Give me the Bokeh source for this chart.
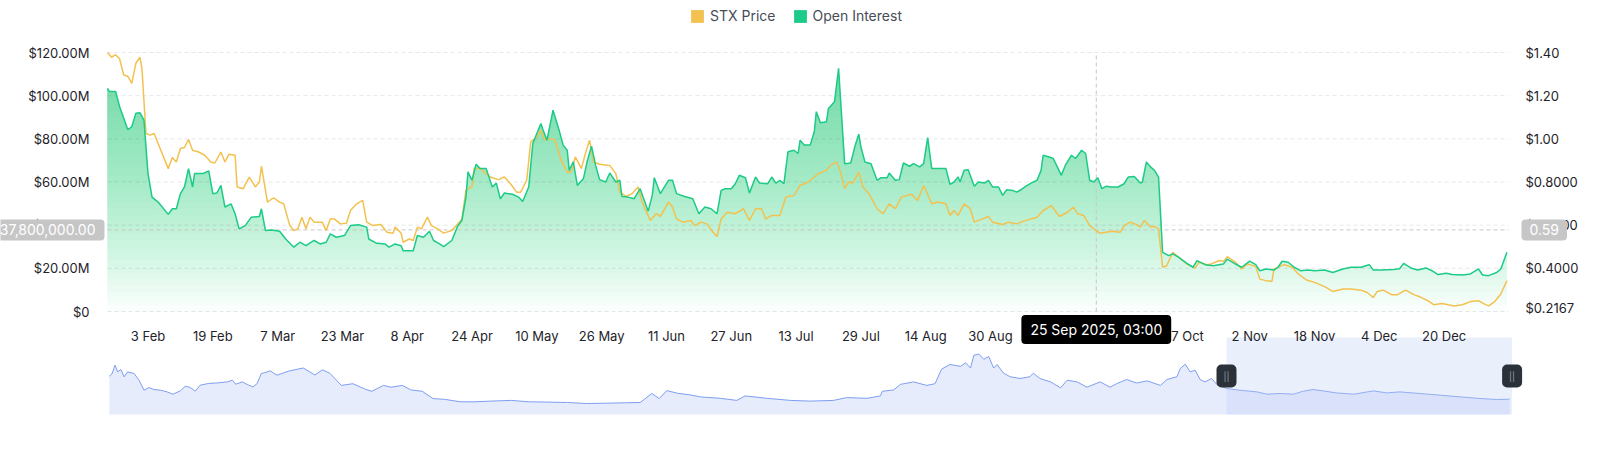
import numpy as np
import pandas as pd
from bokeh.plotting import figure
from bokeh.models import Range1d, LinearAxis, FixedTicker, Label, Legend, LegendItem
from bokeh.embed import file_html
from bokeh.resources import INLINE

# ---------------- data ----------------
oi_dates = [
    "2025-01-24", "2025-01-24 12:00", "2025-01-26", "2025-01-27", "2025-01-29", "2025-01-30", "2025-01-31", "2025-02-01", "2025-02-02", "2025-02-03",
    "2025-02-04", "2025-02-05 12:00", "2025-02-08", "2025-02-09", "2025-02-10", "2025-02-11", "2025-02-12", "2025-02-13", "2025-02-14", "2025-02-14 12:00",
    "2025-02-16 12:00", "2025-02-18", "2025-02-19", "2025-02-20", "2025-02-21", "2025-02-22", "2025-02-23 12:00", "2025-02-24 12:00", "2025-02-25 12:00", "2025-02-27",
    "2025-02-28 12:00", "2025-03-02 12:00", "2025-03-03", "2025-03-04", "2025-03-05 12:00", "2025-03-07 12:00", "2025-03-09", "2025-03-11", "2025-03-12 12:00", "2025-03-14",
    "2025-03-16", "2025-03-17 12:00", "2025-03-19", "2025-03-20", "2025-03-21 12:00", "2025-03-23 12:00", "2025-03-25", "2025-03-27", "2025-03-29", "2025-03-29 12:00",
    "2025-03-31 12:00", "2025-04-02 12:00", "2025-04-03 12:00", "2025-04-05", "2025-04-06 12:00", "2025-04-07", "2025-04-09 12:00", "2025-04-10 12:00", "2025-04-12", "2025-04-13 12:00",
    "2025-04-14 12:00", "2025-04-16", "2025-04-17", "2025-04-19", "2025-04-20 12:00", "2025-04-21 12:00", "2025-04-22 12:00", "2025-04-23", "2025-04-24", "2025-04-25",
    "2025-04-26", "2025-04-27 12:00", "2025-04-29", "2025-04-30", "2025-05-01", "2025-05-02", "2025-05-04", "2025-05-05 12:00", "2025-05-06 12:00", "2025-05-08",
    "2025-05-09", "2025-05-11", "2025-05-11 12:00", "2025-05-12 12:00", "2025-05-14", "2025-05-15 12:00", "2025-05-16 12:00", "2025-05-17 12:00", "2025-05-18", "2025-05-19",
    "2025-05-20", "2025-05-21 12:00", "2025-05-22 12:00", "2025-05-23 12:00", "2025-05-24 12:00", "2025-05-25 12:00", "2025-05-27", "2025-05-28", "2025-05-29 12:00", "2025-05-30 12:00",
    "2025-05-31", "2025-06-01 12:00", "2025-06-03", "2025-06-04 12:00", "2025-06-06 12:00", "2025-06-07 12:00", "2025-06-08", "2025-06-09 12:00", "2025-06-10 12:00", "2025-06-11 12:00",
    "2025-06-12 12:00", "2025-06-13 12:00", "2025-06-15 12:00", "2025-06-17 12:00", "2025-06-19", "2025-06-20 12:00", "2025-06-22", "2025-06-23 12:00", "2025-06-24 12:00", "2025-06-25 12:00",
    "2025-06-27", "2025-06-28", "2025-06-29", "2025-06-30 12:00", "2025-07-01 12:00", "2025-07-03", "2025-07-04", "2025-07-06", "2025-07-07", "2025-07-08",
    "2025-07-09", "2025-07-10", "2025-07-11", "2025-07-12 12:00", "2025-07-13 12:00", "2025-07-14", "2025-07-15", "2025-07-16 12:00", "2025-07-17 12:00", "2025-07-18",
    "2025-07-19", "2025-07-20 12:00", "2025-07-21", "2025-07-22 12:00", "2025-07-23 12:00", "2025-07-24", "2025-07-25", "2025-07-26 12:00", "2025-07-27 12:00", "2025-07-28 12:00",
    "2025-07-29", "2025-07-30", "2025-07-31 12:00", "2025-08-02", "2025-08-03", "2025-08-04 12:00", "2025-08-05", "2025-08-06 12:00", "2025-08-07 12:00", "2025-08-08 12:00",
    "2025-08-10", "2025-08-11", "2025-08-12 12:00", "2025-08-13 12:00", "2025-08-14 12:00", "2025-08-15 12:00", "2025-08-17", "2025-08-19", "2025-08-20", "2025-08-21",
    "2025-08-22", "2025-08-22 12:00", "2025-08-23 12:00", "2025-08-24 12:00", "2025-08-26", "2025-08-27", "2025-08-28 12:00", "2025-08-29 12:00", "2025-08-30 12:00", "2025-09-01",
    "2025-09-02", "2025-09-03", "2025-09-04 12:00", "2025-09-05 12:00", "2025-09-06 12:00", "2025-09-07 12:00", "2025-09-09", "2025-09-10 12:00", "2025-09-11 12:00", "2025-09-12",
    "2025-09-13 12:00", "2025-09-14 12:00", "2025-09-15 12:00", "2025-09-16 12:00", "2025-09-17 12:00", "2025-09-19", "2025-09-20", "2025-09-21 12:00", "2025-09-22 12:00", "2025-09-23 12:00",
    "2025-09-24 12:00", "2025-09-25 12:00", "2025-09-26 12:00", "2025-09-27 12:00", "2025-09-29", "2025-09-30 12:00", "2025-10-02", "2025-10-03", "2025-10-04 12:00", "2025-10-06",
    "2025-10-06 12:00", "2025-10-07 12:00", "2025-10-08 12:00", "2025-10-09 12:00", "2025-10-10 12:00", "2025-10-11 12:00", "2025-10-13", "2025-10-14", "2025-10-15 12:00", "2025-10-17 12:00",
    "2025-10-19", "2025-10-20", "2025-10-22", "2025-10-24", "2025-10-26 12:00", "2025-10-27 12:00", "2025-10-29 12:00", "2025-10-31", "2025-11-02", "2025-11-03 12:00",
    "2025-11-04 12:00", "2025-11-06", "2025-11-08", "2025-11-09", "2025-11-10", "2025-11-11 12:00", "2025-11-13", "2025-11-14 12:00", "2025-11-16 12:00", "2025-11-18",
    "2025-11-20 12:00", "2025-11-22 12:00", "2025-11-25", "2025-11-27", "2025-11-29 12:00", "2025-12-01 12:00", "2025-12-02 12:00", "2025-12-04 12:00", "2025-12-07 12:00", "2025-12-09",
    "2025-12-10", "2025-12-12", "2025-12-13 12:00", "2025-12-15 12:00", "2025-12-17", "2025-12-18 12:00", "2025-12-20 12:00", "2025-12-22", "2025-12-24 12:00", "2025-12-26 12:00",
    "2025-12-28 12:00", "2025-12-29 12:00", "2025-12-31", "2026-01-02", "2026-01-03", "2026-01-04 12:00",
]
oi_musd = [
    103.4, 101.9, 101.9, 94.9, 84.3, 85.6, 91.8, 92.1, 88.7, 63.9,
    53.0, 50.7, 45.0, 47.6, 47.6, 54.6, 57.7, 66.2, 57.7, 63.9,
    63.9, 65.1, 54.6, 54.9, 58.4, 48.4, 49.9, 45.3, 38.3, 39.8,
    43.7, 44.0, 47.6, 37.5, 37.8, 37.2, 33.6, 29.8, 32.1, 30.5,
    32.9, 31.3, 32.1, 36.0, 34.4, 35.2, 39.8, 40.2, 39.1, 33.6,
    31.6, 31.3, 29.8, 31.3, 30.5, 28.2, 28.2, 35.2, 34.4, 37.2,
    32.9, 31.3, 30.1, 32.9, 39.8, 42.2, 53.0, 64.7, 60.8, 68.2,
    66.2, 66.2, 57.7, 59.5, 52.2, 54.9, 54.3, 53.0, 51.0, 57.7,
    77.8, 87.1, 84.3, 79.4, 93.3, 84.0, 77.1, 74.7, 65.4, 69.3,
    58.4, 61.6, 70.1, 76.6, 67.8, 61.1, 60.0, 64.2, 60.0, 60.8,
    53.3, 53.0, 52.2, 56.9, 46.5, 53.8, 62.0, 54.6, 57.7, 60.8,
    60.8, 54.6, 53.3, 52.2, 45.3, 48.4, 47.6, 45.3, 56.1, 56.9,
    56.9, 59.2, 63.1, 62.0, 54.9, 62.3, 59.5, 59.2, 62.3, 59.5,
    60.8, 59.2, 74.0, 74.7, 73.2, 79.4, 77.1, 77.1, 83.3, 92.6,
    87.4, 87.9, 94.1, 97.2, 112.7, 98.0, 68.5, 68.8, 76.3, 82.2,
    76.3, 69.3, 68.5, 60.8, 62.0, 62.0, 64.2, 60.8, 61.1, 68.8,
    67.3, 68.5, 67.0, 68.5, 80.6, 66.2, 66.2, 66.2, 58.9, 60.0,
    62.3, 60.0, 65.4, 65.7, 58.0, 60.0, 59.5, 60.8, 57.7, 57.7,
    53.8, 56.4, 56.1, 55.3, 56.4, 57.7, 59.5, 60.8, 65.4, 72.4,
    71.6, 70.9, 67.0, 63.1, 67.8, 72.4, 70.9, 74.7, 73.2, 60.8,
    60.0, 62.0, 56.9, 58.0, 57.7, 57.7, 59.2, 62.3, 62.6, 59.5,
    60.0, 69.3, 67.0, 65.4, 62.3, 27.4, 25.9, 26.7, 25.1, 22.3,
    20.5, 23.6, 21.7, 21.2, 22.0, 24.3, 22.0, 20.5, 23.3, 21.7,
    18.9, 19.7, 19.2, 20.5, 23.3, 22.8, 20.5, 18.9, 19.2, 18.9,
    19.2, 18.1, 19.7, 20.5, 20.5, 21.7, 19.2, 19.2, 19.5, 19.8,
    22.3, 20.0, 19.2, 20.2, 18.9, 17.1, 17.7, 17.1, 16.9, 17.4,
    19.7, 16.9, 16.6, 18.1, 19.7, 27.4,
]

price_dates = [
    "2025-01-24", "2025-01-25", "2025-01-26", "2025-01-27", "2025-01-28", "2025-01-29", "2025-01-30", "2025-01-31", "2025-02-01", "2025-02-01 12:00",
    "2025-02-02 12:00", "2025-02-03 12:00", "2025-02-04 12:00", "2025-02-05 12:00", "2025-02-07 12:00", "2025-02-08", "2025-02-09", "2025-02-10", "2025-02-11", "2025-02-12",
    "2025-02-13", "2025-02-14", "2025-02-15 12:00", "2025-02-17", "2025-02-18 12:00", "2025-02-19 12:00", "2025-02-21", "2025-02-22", "2025-02-23", "2025-02-24 12:00",
    "2025-02-25", "2025-02-26 12:00", "2025-02-28", "2025-03-01 12:00", "2025-03-02 12:00", "2025-03-03", "2025-03-04 12:00", "2025-03-06", "2025-03-07 12:00", "2025-03-08 12:00",
    "2025-03-10", "2025-03-11", "2025-03-12", "2025-03-13", "2025-03-14", "2025-03-15", "2025-03-16", "2025-03-18", "2025-03-19", "2025-03-20",
    "2025-03-21", "2025-03-22 12:00", "2025-03-24", "2025-03-25", "2025-03-26 12:00", "2025-03-28", "2025-03-29", "2025-03-30 12:00", "2025-04-01 12:00", "2025-04-03",
    "2025-04-04 12:00", "2025-04-05", "2025-04-06 12:00", "2025-04-07", "2025-04-08 12:00", "2025-04-09 12:00", "2025-04-10 12:00", "2025-04-11 12:00", "2025-04-13", "2025-04-14",
    "2025-04-15 12:00", "2025-04-17", "2025-04-19", "2025-04-20 12:00", "2025-04-21 12:00", "2025-04-22 12:00", "2025-04-24", "2025-04-24 12:00", "2025-04-26", "2025-04-27 12:00",
    "2025-04-28 12:00", "2025-04-30 12:00", "2025-05-02", "2025-05-03 12:00", "2025-05-05", "2025-05-06", "2025-05-07 12:00", "2025-05-08 12:00", "2025-05-10", "2025-05-11",
    "2025-05-12", "2025-05-13 12:00", "2025-05-14 12:00", "2025-05-16", "2025-05-17 12:00", "2025-05-18 12:00", "2025-05-19 12:00", "2025-05-21", "2025-05-22", "2025-05-23",
    "2025-05-24", "2025-05-25 12:00", "2025-05-28", "2025-05-29 12:00", "2025-05-30 12:00", "2025-06-01", "2025-06-02 12:00", "2025-06-04", "2025-06-05", "2025-06-07",
    "2025-06-08 12:00", "2025-06-09 12:00", "2025-06-11 12:00", "2025-06-12 12:00", "2025-06-13 12:00", "2025-06-15", "2025-06-17", "2025-06-18", "2025-06-19 12:00", "2025-06-21",
    "2025-06-22 12:00", "2025-06-23 12:00", "2025-06-24 12:00", "2025-06-26", "2025-06-28", "2025-06-30", "2025-07-01 12:00", "2025-07-03", "2025-07-04 12:00", "2025-07-05 12:00",
    "2025-07-07", "2025-07-09", "2025-07-10 12:00", "2025-07-12 12:00", "2025-07-14", "2025-07-16", "2025-07-17 12:00", "2025-07-18 12:00", "2025-07-20 12:00", "2025-07-21 12:00",
    "2025-07-23", "2025-07-24", "2025-07-25", "2025-07-26", "2025-07-27", "2025-07-28 12:00", "2025-07-29 12:00", "2025-07-31", "2025-08-02", "2025-08-03 12:00",
    "2025-08-05", "2025-08-06 12:00", "2025-08-08", "2025-08-10 12:00", "2025-08-12", "2025-08-13 12:00", "2025-08-15 12:00", "2025-08-17", "2025-08-19", "2025-08-20",
    "2025-08-21", "2025-08-22", "2025-08-23 12:00", "2025-08-25", "2025-08-26", "2025-08-28", "2025-08-29 12:00", "2025-08-30 12:00", "2025-09-02", "2025-09-03 12:00",
    "2025-09-05 12:00", "2025-09-06 12:00", "2025-09-09", "2025-09-10 12:00", "2025-09-12", "2025-09-14", "2025-09-16", "2025-09-18", "2025-09-19 12:00", "2025-09-20 12:00",
    "2025-09-22", "2025-09-23 12:00", "2025-09-24 12:00", "2025-09-26", "2025-09-27 12:00", "2025-09-29", "2025-10-01", "2025-10-02", "2025-10-03 12:00", "2025-10-05",
    "2025-10-06", "2025-10-07", "2025-10-08 12:00", "2025-10-09 12:00", "2025-10-10 12:00", "2025-10-11 12:00", "2025-10-12 12:00", "2025-10-14", "2025-10-15 12:00", "2025-10-17 12:00",
    "2025-10-19 12:00", "2025-10-20 12:00", "2025-10-22 12:00", "2025-10-23 12:00", "2025-10-25 12:00", "2025-10-26 12:00", "2025-10-27 12:00", "2025-10-29 12:00", "2025-10-31", "2025-11-01 12:00",
    "2025-11-03 12:00", "2025-11-04 12:00", "2025-11-06", "2025-11-07 12:00", "2025-11-08", "2025-11-09", "2025-11-10 12:00", "2025-11-12 12:00", "2025-11-14", "2025-11-16",
    "2025-11-18", "2025-11-20 12:00", "2025-11-22 12:00", "2025-11-25", "2025-11-27", "2025-11-29 12:00", "2025-12-01", "2025-12-02 12:00", "2025-12-03 12:00", "2025-12-05",
    "2025-12-07", "2025-12-08 12:00", "2025-12-10 12:00", "2025-12-12 12:00", "2025-12-14", "2025-12-16", "2025-12-17 12:00", "2025-12-19 12:00", "2025-12-21", "2025-12-22 12:00",
    "2025-12-24 12:00", "2025-12-26 12:00", "2025-12-28 12:00", "2025-12-30", "2025-12-31", "2026-01-01 12:00", "2026-01-03", "2026-01-04 12:00",
]
price_usd = [
    1.40, 1.378, 1.39, 1.37, 1.296, 1.29, 1.257, 1.35, 1.378, 1.327,
    1.025, 1.017, 1.025, 0.978, 0.885, 0.862, 0.913, 0.893, 0.955, 0.96,
    0.997, 0.947, 0.939, 0.924, 0.893, 0.888, 0.939, 0.893, 0.929, 0.924,
    0.777, 0.769, 0.823, 0.777, 0.80, 0.873, 0.707, 0.727, 0.707, 0.699,
    0.598, 0.575, 0.583, 0.637, 0.583, 0.637, 0.614, 0.614, 0.575, 0.629,
    0.629, 0.606, 0.609, 0.668, 0.699, 0.715, 0.614, 0.598, 0.603, 0.567,
    0.563, 0.591, 0.563, 0.521, 0.536, 0.529, 0.591, 0.583, 0.637, 0.598,
    0.583, 0.563, 0.575, 0.606, 0.629, 0.761, 0.78, 0.862, 0.862, 0.839,
    0.823, 0.811, 0.823, 0.792, 0.753, 0.753, 0.808, 0.986, 1.009, 1.04,
    0.994, 1.001, 0.994, 0.90, 0.846, 0.846, 0.916, 0.862, 0.932, 0.994,
    0.893, 0.882, 0.877, 0.839, 0.753, 0.733, 0.746, 0.777, 0.707, 0.622,
    0.653, 0.64, 0.707, 0.684, 0.629, 0.614, 0.622, 0.598, 0.614, 0.606,
    0.567, 0.547, 0.629, 0.66, 0.653, 0.676, 0.622, 0.676, 0.676, 0.629,
    0.645, 0.645, 0.73, 0.738, 0.784, 0.80, 0.823, 0.839, 0.854, 0.877,
    0.893, 0.846, 0.769, 0.80, 0.795, 0.846, 0.777, 0.746, 0.676, 0.653,
    0.699, 0.676, 0.73, 0.743, 0.715, 0.784, 0.699, 0.707, 0.699, 0.645,
    0.668, 0.645, 0.699, 0.676, 0.614, 0.629, 0.64, 0.614, 0.603, 0.614,
    0.606, 0.614, 0.629, 0.637, 0.668, 0.691, 0.64, 0.66, 0.684, 0.653,
    0.645, 0.598, 0.583, 0.563, 0.567, 0.572, 0.567, 0.598, 0.614, 0.603,
    0.591, 0.622, 0.591, 0.594, 0.583, 0.405, 0.412, 0.474, 0.451, 0.42,
    0.401, 0.428, 0.417, 0.42, 0.436, 0.433, 0.454, 0.428, 0.397, 0.42,
    0.408, 0.35, 0.343, 0.34, 0.397, 0.405, 0.417, 0.405, 0.374, 0.346,
    0.335, 0.315, 0.293, 0.304, 0.304, 0.299, 0.288, 0.265, 0.293, 0.299,
    0.278, 0.278, 0.299, 0.278, 0.268, 0.25, 0.231, 0.237, 0.231, 0.226,
    0.231, 0.246, 0.25, 0.234, 0.226, 0.246, 0.281, 0.343,
]

x_tick_dates = ["2025-02-03", "2025-02-19", "2025-03-07", "2025-03-23", "2025-04-08", "2025-04-24",
                "2025-05-10", "2025-05-26", "2025-06-11", "2025-06-27", "2025-07-13", "2025-07-29",
                "2025-08-14", "2025-08-30", "2025-10-17", "2025-11-02", "2025-11-18", "2025-12-04", "2025-12-20"]
x_tick_labels = ["3 Feb", "19 Feb", "7 Mar", "23 Mar", "8 Apr", "24 Apr", "10 May", "26 May", "11 Jun",
                 "27 Jun", "13 Jul", "29 Jul", "14 Aug", "30 Aug", "17 Oct", "2 Nov", "18 Nov", "4 Dec", "20 Dec"]
oi_ticks = [0, 20e6, 40e6, 60e6, 80e6, 100e6, 120e6]
oi_tick_labels = ["$0", "$20.00M", "$40.00M", "$60.00M", "$80.00M", "$100.00M", "$120.00M"]
price_ticks = [0.2167, 0.4, 0.6, 0.8, 1.0, 1.2, 1.4]
price_tick_labels = ["$0.2167", "$0.4000", "$0.6000", "$0.8000", "$1.00", "$1.20", "$1.40"]

# navigator (full history, normalised height of the mini series)
nav_start = "2021-05-11"
nav_days = [1, 4, 8, 11, 15, 19, 23, 31, 37, 43, 49, 55, 63, 71, 78, 87, 93, 99, 105, 111,
            121, 132, 144, 150, 154, 162, 168, 175, 180, 185, 188, 196, 204, 212, 219,
            236, 250, 259, 268, 282, 296, 310, 319, 333, 342, 356, 366, 380, 393, 407, 426, 444, 463, 488, 509,
            532, 556, 579, 602, 625, 644, 658, 667, 676, 690, 704,
            717, 741, 761, 771, 797, 826, 850, 878, 894, 919, 935, 937, 951, 959, 975, 991, 1001, 1009, 1019, 1032,
            1038, 1044, 1048, 1054, 1060, 1066, 1072, 1076, 1084, 1092, 1104, 1116, 1120, 1128, 1141, 1153, 1161, 1173, 1185, 1201,
            1213, 1221, 1233, 1245, 1258, 1274, 1282, 1294,
            1298, 1304, 1310, 1316, 1322, 1328, 1336, 1342, 1354, 1370, 1391, 1403, 1419, 1435, 1447, 1459, 1471, 1487, 1508, 1532,
            1548, 1564, 1588, 1613, 1637, 1661, 1681, 1697]
nav_level = [38.3, 40.3, 49.3, 42.6, 45.0, 37.6, 42.6, 41.0, 34.3, 24.3, 27.0, 25.0, 24.3, 22.6, 20.3, 23.6, 28.3, 27.0, 23.3, 29.3,
             31.0, 31.6, 32.6, 34.3, 30.3, 32.6, 30.0, 27.6, 31.0, 41.0, 41.6, 43.6, 39.3, 41.6, 43.6,
             46.5, 39.5, 44.7, 41.3, 29.1, 30.8, 25.6, 23.2, 29.1, 27.3, 29.1, 24.6, 23.2, 15.9, 15.2, 12.7, 12.7, 13.4, 14.1, 12.7,
             12.4, 12.0, 11.0, 11.3, 11.7, 12.0, 21.1, 15.9, 23.9, 21.1, 19.7,
             17.6, 16.2, 14.1, 18.6, 16.2, 14.1, 13.4, 14.1, 16.9, 16.2, 18.6, 23.2, 24.6, 30.1, 32.6, 29.1, 30.8, 45.4, 50.0, 48.2,
             51.7, 46.5, 59.3, 60.4, 55.2, 58.0, 46.5, 50.0, 41.3, 37.8, 36.0, 37.8, 41.3, 36.0, 32.6, 26.6, 34.3, 32.6, 27.3, 32.6,
             27.3, 30.8, 35.0, 31.5, 33.6, 29.1, 35.0, 37.8,
             46.0, 50.3, 42.6, 44.3, 35.0, 32.6, 36.0, 30.3, 26.0, 24.3, 22.6, 20.3, 21.0, 20.3, 23.3, 25.0, 23.6, 21.6, 20.3, 23.6,
             21.6, 22.6, 21.0, 19.3, 17.6, 16.0, 15.0, 15.3]

cross_time = "2025-09-25 03:00"
cross_time_text = "25 Sep 2025, 03:00"
cross_oi = 37.8e6
cross_oi_text = "37,800,000.00"
cross_price_text = "0.59"

view_start = "2025-01-24 00:00"
view_end = "2026-01-04 21:30"

# ---------------- styling / layout (pixel geometry of the canvas) ----------------
FONT = "Inter"
GREEN = "#1bcb87"
YELLOW = "#f3c14f"
TXT = "#1e2329"
W, H = 1592, 420
PLOT_L, PLOT_R = 107, 1508          # main plot area, left / right
MAIN_T, MAIN_B = 52, 311            # main plot area, top / bottom
NAV_T, NAV_B = 337, 414             # navigator strip
NAV_X0 = 108                        # navigator start
NAV_WIN_L = 1226                    # navigator selection start

OI_TOP = 120e6
OI_PER_PX = OI_TOP / (MAIN_B - MAIN_T)
PRICE_LO, PRICE_HI = 0.2, 1.4
PRICE_PER_PX = (PRICE_HI - PRICE_LO) / (MAIN_B - MAIN_T)

ts = lambda lst: [pd.Timestamp(s) for s in lst]
oi_x = ts(oi_dates)
oi = np.array(oi_musd) * 1e6
price_x = ts(price_dates)
price = np.array(price_usd)

x0, x1 = pd.Timestamp(view_start), pd.Timestamp(view_end)
day = pd.Timedelta(days=1)
px_per_day = (PLOT_R - PLOT_L) / ((x1 - x0) / day)
x_lo = x0 - pd.Timedelta(days=PLOT_L / px_per_day)
x_hi = x1 + pd.Timedelta(days=(W - PLOT_R) / px_per_day)

nav_day0 = pd.Timestamp(nav_start)
win_l = (x0 - nav_day0) / day
win_r = (x1 - nav_day0) / day
nav_px_per_day = (NAV_WIN_L - NAV_X0) / win_l

p = figure(width=W, height=H, x_axis_type="datetime",
           x_range=Range1d(x_lo, x_hi),
           y_range=Range1d(-(H - MAIN_B) * OI_PER_PX, OI_TOP + MAIN_T * OI_PER_PX),
           output_backend="svg", toolbar_location=None,
           min_border_left=0, min_border_right=0, min_border_top=0, min_border_bottom=0)
p.title.visible = False
p.outline_line_color = None
p.background_fill_color = "white"
p.border_fill_color = "white"
p.xgrid.visible = False
p.ygrid.visible = False

p.extra_y_ranges = {
    "price": Range1d(PRICE_LO - (H - MAIN_B) * PRICE_PER_PX, PRICE_HI + MAIN_T * PRICE_PER_PX),
    "nav": Range1d(-(H - NAV_B), NAV_B),
}
p.extra_x_ranges = {"nav": Range1d(-NAV_X0 / nav_px_per_day, (W - NAV_X0) / nav_px_per_day)}
NAV_H = NAV_B - NAV_T

to_ms = lambda t: float(pd.Timestamp(t).value // 10**6)

# left axis at the plot's left edge
ya = p.yaxis[0]
ya.fixed_location = to_ms(x0)
ya.ticker = FixedTicker(ticks=oi_ticks)
ya.major_label_overrides = {float(t): l for t, l in zip(oi_ticks, oi_tick_labels)}
# right axis at the plot's right edge
ra = LinearAxis(y_range_name="price", ticker=FixedTicker(ticks=price_ticks), fixed_location=to_ms(x1))
ra.major_label_overrides = {float(t): l for t, l in zip(price_ticks, price_tick_labels)}
p.add_layout(ra, "right")
# bottom axis at zero line
xa = p.xaxis[0]
xa.fixed_location = 0
tick_ms = [to_ms(d) for d in x_tick_dates]
xa.ticker = FixedTicker(ticks=tick_ms)
xa.major_label_overrides = dict(zip(tick_ms, x_tick_labels))

for ax, so in ((ya, 12), (ra, 11), (xa, 10)):
    ax.axis_line_color = None
    ax.major_tick_line_color = None
    ax.minor_tick_line_color = None
    ax.major_label_standoff = so
    ax.major_label_text_font = FONT
    ax.major_label_text_font_size = "13px"
    ax.major_label_text_color = TXT

# horizontal grid lines (only across the main plot area)
p.segment(x0=[x0] * len(oi_ticks), y0=oi_ticks, x1=[x1] * len(oi_ticks), y1=oi_ticks,
          line_color="#e6e8eb", line_dash="4 3", line_width=1)

# ---- navigator ----
nav_x = np.array(nav_days)
nav_y = np.array(nav_level)
p.varea(x=nav_x, y1=0, y2=nav_y, x_range_name="nav", y_range_name="nav",
        fill_color="#e6ecfc", fill_alpha=1.0)
p.line(nav_x, nav_y, x_range_name="nav", y_range_name="nav", line_color="#7e9ef1", line_width=1)
p.quad(left=[win_l], right=[win_r], bottom=[0], top=[NAV_H], x_range_name="nav", y_range_name="nav",
       fill_color="#bfcdf6", fill_alpha=0.32, line_color=None)

# ---- open interest gradient area ----
levels = np.arange(0, 118e6, 3e6)
for lev in levels:
    p.varea(x=oi_x, y1=np.minimum(oi, lev), y2=oi, fill_color=GREEN, fill_alpha=0.022)

# ---- crosshair ----
ct = pd.Timestamp(cross_time)
p.segment(x0=[ct], y0=[0], x1=[ct], y1=[OI_TOP], line_color="#c3c7cd", line_dash="4 3", line_width=1)
p.segment(x0=[x0], y0=[cross_oi], x1=[x1], y1=[cross_oi], line_color="#c9c6c6", line_dash="4 3", line_width=1)

# ---- series lines ----
p.line(price_x, price, y_range_name="price", line_color=YELLOW, line_width=1.5)
p.line(oi_x, oi, line_color=GREEN, line_width=1.5)

# ---- legend (proxy glyphs, not drawn in the plot: NaN geometry) ----
nan = [float("nan")]
r_leg_p = p.quad(left=nan, right=nan, top=nan, bottom=nan, fill_color=YELLOW, line_color=None)
r_leg_o = p.quad(left=nan, right=nan, top=nan, bottom=nan, fill_color=GREEN, line_color=None)
legend = Legend(items=[LegendItem(label="STX Price", renderers=[r_leg_p], index=0),
                       LegendItem(label="Open Interest", renderers=[r_leg_o], index=0)],
                location=(689, H - 24), orientation="horizontal",
                glyph_width=16, glyph_height=16, label_height=16, label_standoff=5, spacing=16,
                padding=0, margin=0, border_line_color=None, background_fill_alpha=0,
                label_text_font=FONT, label_text_font_size="14px", label_text_color="#474d57")
p.add_layout(legend)

# ---- crosshair labels ----
p.add_layout(Label(x=x0, y=cross_oi, x_offset=-3, text=cross_oi_text, text_align="right",
                   text_baseline="middle", text_font=FONT, text_font_size="14px", text_color="white",
                   background_fill_color="#c6c6c6", border_radius=4,
                   padding=dict(left=9, right=9, top=5, bottom=5)))
p.add_layout(Label(x=x1, y=cross_oi, x_offset=13, text=cross_price_text, text_align="left",
                   text_baseline="middle", text_font=FONT, text_font_size="14px", text_color="white",
                   background_fill_color="#c6c6c6", border_radius=4,
                   padding=dict(left=8, right=8, top=5, bottom=5)))
p.add_layout(Label(x=ct, y=-18 * OI_PER_PX, text=cross_time_text, text_align="center",
                   text_baseline="middle", text_font=FONT, text_font_size="14px", text_color="white",
                   background_fill_color="#000000", border_radius=4,
                   padding=dict(left=9, right=9, top=6, bottom=6)))

# ---- navigator handles ----
for hx in (win_l, win_r):
    p.add_layout(Label(x=hx, y=NAV_H / 2, x_range_name="nav", y_range_name="nav", text="||",
                       text_align="center", text_baseline="middle", text_font=FONT,
                       text_font_size="9px", text_color="#9aa1aa", background_fill_color="#2b3139",
                       border_radius=5, padding=dict(left=7, right=7, top=6, bottom=6)))

open("out.html", "w").write(file_html(p, INLINE))
